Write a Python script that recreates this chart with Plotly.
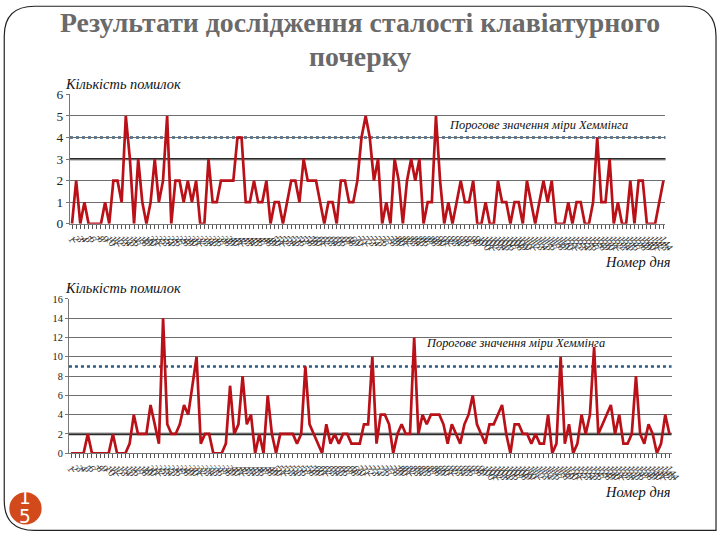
import plotly.graph_objects as go

days = list(range(1, 145))

errors_top = [0,2,0,1,0,0,0,0,1,0,2,2,1,5,3,0,3,1,0,1,3,1,2,5,0,2,2,1,2,1,2,0,0,3,1,1,2,2,2,2,4,4,1,1,2,1,1,2,
              0,1,1,0,1,2,2,1,3,2,2,2,1,0,1,1,0,2,2,1,1,2,4,5,4,2,3,0,1,0,3,2,0,2,3,2,3,0,1,1,5,2,0,1,0,1,2,1,1,
              2,0,0,1,0,0,2,1,1,0,1,1,0,2,1,0,1,2,1,2,0,0,0,1,0,1,1,0,0,1,4,1,1,3,0,1,0,0,2,0,2,2,0,0,0,1,2]

errors_bottom = [0,0,0,0,2,0,0,0,0,0,2,0,0,0,1,4,2,2,2,5,3,1,14,3,2,2,3,5,4,7,10,1,2,2,0,0,0,1,7,2,3,8,3,4,0,2,0,6,
                 2,0,2,2,2,2,1,2,9,3,2,1,0,3,1,2,1,2,2,1,1,1,3,3,10,1,4,4,3,0,2,3,2,2,12,2,4,3,4,4,4,3,1,3,2,1,3,4,
                 6,3,2,1,3,3,4,5,2,0,3,3,2,2,1,2,1,1,4,0,1,10,1,3,0,1,4,2,4,11,2,3,4,5,2,4,1,1,2,8,2,1,3,2,0,1,4,2]

threshold_top = 4
threshold_bottom = 9
level_top = 3
level_bottom = 2

y_title = "Кількість помилок"
x_title = "Номер дня"
threshold_label = "Порогове значення міри Хеммінга"
title_line1 = "Результати дослідження сталості клавіатурного"
title_line2 = "почерку"
page_digits = ["1", "5"]

# The captured picture comes out ~0.97 of page size, with the page body's 8px margin,
# so target screen positions are converted into figure coordinates.
S = 0.97
OFF = 8
W, H = 726, 540
def px(x):
    return (x / S - OFF) / W
def py(y):
    return 1 - (y / S - OFF) / H
def fs(v):
    return round(v / S, 1)

SERIF = "Liberation Serif"
RED = "#BA1018"
BLUE = "#2B5A82"
GRID = "#6e6e6e"

fig = go.Figure()

fig.add_trace(go.Scatter(x=days, y=errors_top, mode="lines", line=dict(color=RED, width=fs(2.6)),
                         xaxis="x", yaxis="y", showlegend=False, hoverinfo="skip"))
fig.add_trace(go.Scatter(x=days, y=errors_bottom, mode="lines", line=dict(color=RED, width=fs(2.6)),
                         xaxis="x2", yaxis="y2", showlegend=False, hoverinfo="skip"))

shapes = []
shapes.append(dict(type="line", xref="x domain", yref="y", x0=0, x1=1, y0=level_top, y1=level_top,
                   line=dict(color="#2a2a2a", width=fs(2.3)), layer="below"))
shapes.append(dict(type="line", xref="x2 domain", yref="y2", x0=0, x1=1, y0=level_bottom, y1=level_bottom,
                   line=dict(color="#2a2a2a", width=fs(2.3)), layer="below"))
shapes.append(dict(type="line", xref="x domain", yref="y", x0=0, x1=1, y0=threshold_top, y1=threshold_top,
                   line=dict(color=BLUE, width=fs(2.3), dash="dot"), layer="below"))
shapes.append(dict(type="line", xref="x2 domain", yref="y2", x0=0, x1=1, y0=threshold_bottom, y1=threshold_bottom,
                   line=dict(color=BLUE, width=fs(2.3), dash="dot"), layer="below"))

# slide frame
L, T, R, B, r = 8, 7, 712, 530, 30
frame = (f"M {px(L)},{py(T + r)} Q {px(L)},{py(T)} {px(L + r)},{py(T)} "
         f"L {px(R - r)},{py(T)} Q {px(R)},{py(T)} {px(R)},{py(T + r)} "
         f"L {px(R)},{py(B)} "
         f"L {px(L + r)},{py(B)} Q {px(L)},{py(B)} {px(L)},{py(B - r)} Z")
shapes.append(dict(type="path", xref="paper", yref="paper", path=frame,
                   line=dict(color="#222222", width=1.2), layer="below"))
cx, cy, cr = 29, 508, 16
shapes.append(dict(type="circle", xref="paper", yref="paper",
                   x0=px(cx - cr), x1=px(cx + cr), y0=py(cy + cr), y1=py(cy - cr),
                   fillcolor="#D24A1C", line=dict(width=0)))

def ann(text, x, y, size, xanchor="center", color="#111111", family=SERIF):
    return dict(text=text, x=px(x), y=py(y), xref="paper", yref="paper", xanchor=xanchor,
                yanchor="middle", showarrow=False, font=dict(family=family, size=fs(size), color=color))

annotations = [
    ann(f"<b>{title_line1}</b>", 360, 23, 27, color="#6a6a6a"),
    ann(f"<b>{title_line2}</b>", 360, 57, 27, color="#6a6a6a"),
    ann(f"<i>{y_title}</i>", 66, 85, 14, "left"),
    ann(f"<i>{x_title}</i>", 669, 262, 14, "right"),
    ann(f"<i>{y_title}</i>", 66, 288, 14, "left"),
    ann(f"<i>{x_title}</i>", 669, 492, 14, "right"),
    ann(f"<i>{threshold_label}</i>", 446, 125, 12, "left"),
    ann(f"<i>{threshold_label}</i>", 423, 343, 12, "left"),
    ann(page_digits[0], cx, 497, 18, color="white", family="DejaVu Sans"),
    ann(page_digits[1], cx, 516, 18, color="white", family="DejaVu Sans"),
]

xaxis_common = dict(range=[0.5, 144.5], tickmode="linear", tick0=1, dtick=1, tickangle=55,
                     ticks="outside", ticklen=4, tickcolor="#555555", showgrid=False,
                     showline=True, linecolor="#777777", linewidth=1, zeroline=False,
                     tickfont=dict(family=SERIF, size=fs(10), color="#333333"))

yaxis_common = dict(showgrid=True, gridcolor=GRID, gridwidth=1, showline=True, linecolor="#777777",
                    zeroline=False, ticks="outside", ticklen=3, tickcolor="#777777")

fig.update_layout(
    width=W, height=H, margin=dict(l=0, r=0, t=0, b=0),
    paper_bgcolor="white", plot_bgcolor="white", showlegend=False,
    xaxis=dict(domain=[px(73), px(662)], anchor="y", **xaxis_common),
    yaxis=dict(domain=[py(224), py(95)], anchor="x", range=[0, 6], dtick=1,
               tickfont=dict(family=SERIF, size=fs(13), color="#222222"), **yaxis_common),
    xaxis2=dict(domain=[px(72), px(668)], anchor="y2", **xaxis_common),
    yaxis2=dict(domain=[py(453), py(299)], anchor="x2", range=[0, 16], dtick=2,
                tickfont=dict(family=SERIF, size=fs(10), color="#222222"), **yaxis_common),
    shapes=shapes, annotations=annotations,
)

fig.write_html("out.html")
